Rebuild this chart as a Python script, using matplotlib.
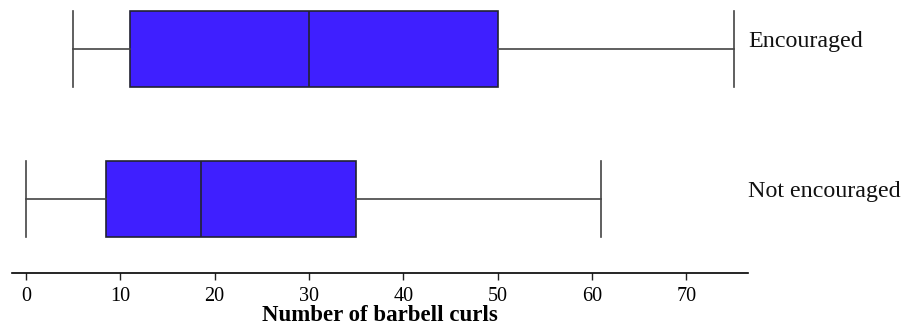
import matplotlib
matplotlib.use("Agg")
import matplotlib.pyplot as plt

# five-number summaries
groups = ["Not encouraged", "Encouraged"]
mins = [0, 5]
q1s = [8.5, 11]
medians = [18.5, 30]
q3s = [35, 50]
maxs = [61, 75]
ticks = [0, 10, 20, 30, 40, 50, 60, 70]

plt.rcParams['font.family'] = ['Liberation Serif', 'DejaVu Serif']

fig = plt.figure(figsize=(9.02, 3.28), dpi=100)
ax = fig.add_axes([12 / 902, 54.7 / 328, (747.7 - 12) / 902, 273.3 / 328])

stats = []
for g, lo, a, m, b, hi in zip(groups, mins, q1s, medians, q3s, maxs):
    stats.append({"label": g, "whislo": lo, "q1": a, "med": m, "q3": b, "whishi": hi, "fliers": []})

ax.bxp(stats, positions=[1, 2], vert=False, widths=0.505, patch_artist=True,
       showfliers=False,
       boxprops=dict(facecolor="#3f1fff", edgecolor="#222233", linewidth=1.2),
       medianprops=dict(color="#222233", linewidth=1.2),
       whiskerprops=dict(color="#444444", linewidth=1.2),
       capprops=dict(color="#444444", linewidth=1.2),
       capwidths=0.505)

ax.set_xlim(-1.48, 76.5)
ax.set_ylim(0.503, 2.325)

for pos, g in zip([1, 2], groups):
    ax.text(76.5 + 0.05, pos + 0.045, g, fontsize=17.3, ha="left", va="center",
            clip_on=False, color="#111111")

ax.set_yticks([])
ax.set_xticks(ticks)
ax.tick_params(axis="x", direction="out", length=5, width=1, labelsize=14.5, pad=5, color="#222222")
for s in ["top", "right", "left"]:
    ax.spines[s].set_visible(False)
ax.spines["bottom"].set_linewidth(1.2)
ax.set_xlabel("Number of barbell curls", fontsize=16.5, fontweight="bold", labelpad=-1)

fig.savefig("out.png", dpi=100)
